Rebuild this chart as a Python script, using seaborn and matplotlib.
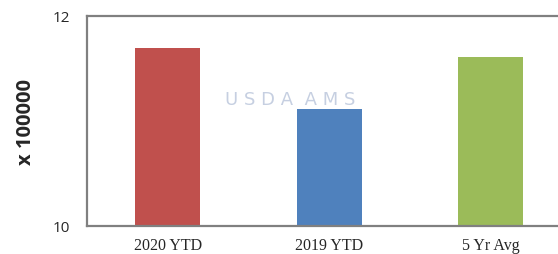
import matplotlib
matplotlib.use("Agg")
import matplotlib.pyplot as plt
import seaborn as sns
import pandas as pd

categories = ["2020 YTD", "2019 YTD", "5 Yr Avg"]
values = [11.70, 11.11, 11.61]
colors = ["#C0504D", "#4F81BD", "#9BBB59"]

sns.set_theme(style="white")
plt.rcParams['font.family'] = ['DejaVu Sans']

df = pd.DataFrame({"cat": categories, "val": values})

fig = plt.figure(figsize=(5.58, 2.55), dpi=100)
W, H = 558, 255
ax = fig.add_axes([87 / W, 1 - 227 / H, 484.5 / W, 210 / H])

sns.barplot(data=df, x="cat", y="val", hue="cat", palette=colors, legend=False,
            width=0.4, ax=ax, saturation=1, linewidth=0, edgecolor="none")
ax.set_ylim(10, 12)
ax.set_xlim(-0.5, 2.5)
ax.set_yticks([10, 12])
ax.set_yticklabels(["10", "12"], fontsize=11, family="Open Sans")
ax.set_xticks(range(len(categories)))
ax.set_xticklabels(categories, fontsize=11.5, family="Liberation Serif")
ax.tick_params(axis="x", length=0, pad=8)
ax.tick_params(axis="y", length=0, pad=12)
ax.set_xlabel("")
ax.set_ylabel("x 100000", fontsize=14.5, fontweight="bold", family="Open Sans", labelpad=12)
for side in ["left", "bottom", "top"]:
    ax.spines[side].set_color("#808080")
    ax.spines[side].set_linewidth(1.6)
ax.spines["right"].set_visible(False)

ax.text(0.42, 0.605, "U S D A  A M S", transform=ax.transAxes, ha="center", va="center",
        fontsize=13, color="#b8c4da", alpha=0.8, zorder=5, family="DejaVu Sans")

fig.savefig("out.png", dpi=100)
